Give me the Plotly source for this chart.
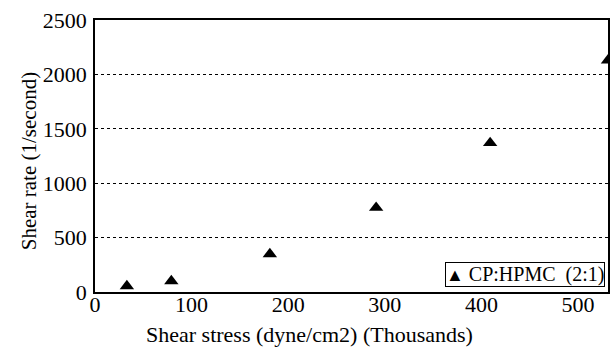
import plotly.graph_objects as go

shear_stress = [33, 79, 181, 291, 409, 531]
shear_rate = [55, 100, 349, 775, 1370, 2130]
series_name = "CP:HPMC  (2:1)"
x_title = "Shear stress (dyne/cm2) (Thousands)"
y_title = "Shear rate (1/second)"
x_ticks = [0, 100, 200, 300, 400, 500]
y_ticks = [0, 500, 1000, 1500, 2000, 2500]

FONT = "Liberation Serif"
PLOT_W, PLOT_H, L, T = 515, 272, 95, 20

fig = go.Figure()
fig.add_trace(go.Scatter(
    x=shear_stress, y=shear_rate, mode="markers", name=series_name,
    marker=dict(symbol="triangle-up", size=12.5, color="black"),
    cliponaxis=True, showlegend=False,
))

# axis titles
fig.add_annotation(text=x_title, xref="paper", yref="paper", x=(310 - L) / PLOT_W,
                   y=-(334 - 292) / PLOT_H, xanchor="center", yanchor="middle",
                   showarrow=False, font=dict(family=FONT, size=22, color="black"))
fig.add_annotation(text=y_title, xref="paper", yref="paper", x=-(L - 29) / PLOT_W,
                   y=(292 - 161) / PLOT_H, xanchor="center", yanchor="middle", textangle=-90,
                   showarrow=False, font=dict(family=FONT, size=21, color="black"))

# legend box
fig.add_annotation(
    text="<span style='font-size:18px'>▲</span> " + series_name,
    xref="paper", yref="paper", x=(607 - L) / PLOT_W, y=(292 - 287) / PLOT_H,
    xanchor="right", yanchor="bottom", showarrow=False,
    bordercolor="black", borderwidth=1, borderpad=0, bgcolor="white",
    font=dict(family=FONT, size=20, color="black"),
)

fig.update_layout(
    width=613, height=347,
    margin=dict(l=L, r=3, t=T, b=55),
    paper_bgcolor="white", plot_bgcolor="white",
    font=dict(family=FONT, size=22, color="black"),
    showlegend=False,
    xaxis=dict(
        range=[0, 531], tickvals=x_ticks, ticktext=[str(v) for v in x_ticks],
        showgrid=False, zeroline=False,
        showline=True, linecolor="black", linewidth=1.5, mirror=True,
        ticks="", ticklabelstandoff=-8,
    ),
    yaxis=dict(
        range=[0, 2500], tickvals=y_ticks, ticktext=[str(v) for v in y_ticks],
        showgrid=True, gridcolor="black", griddash="dot", gridwidth=1,
        zeroline=False,
        showline=True, linecolor="black", linewidth=1.5, mirror=True,
        ticks="", ticklabelstandoff=2,
    ),
)

fig.write_html("out.html")
